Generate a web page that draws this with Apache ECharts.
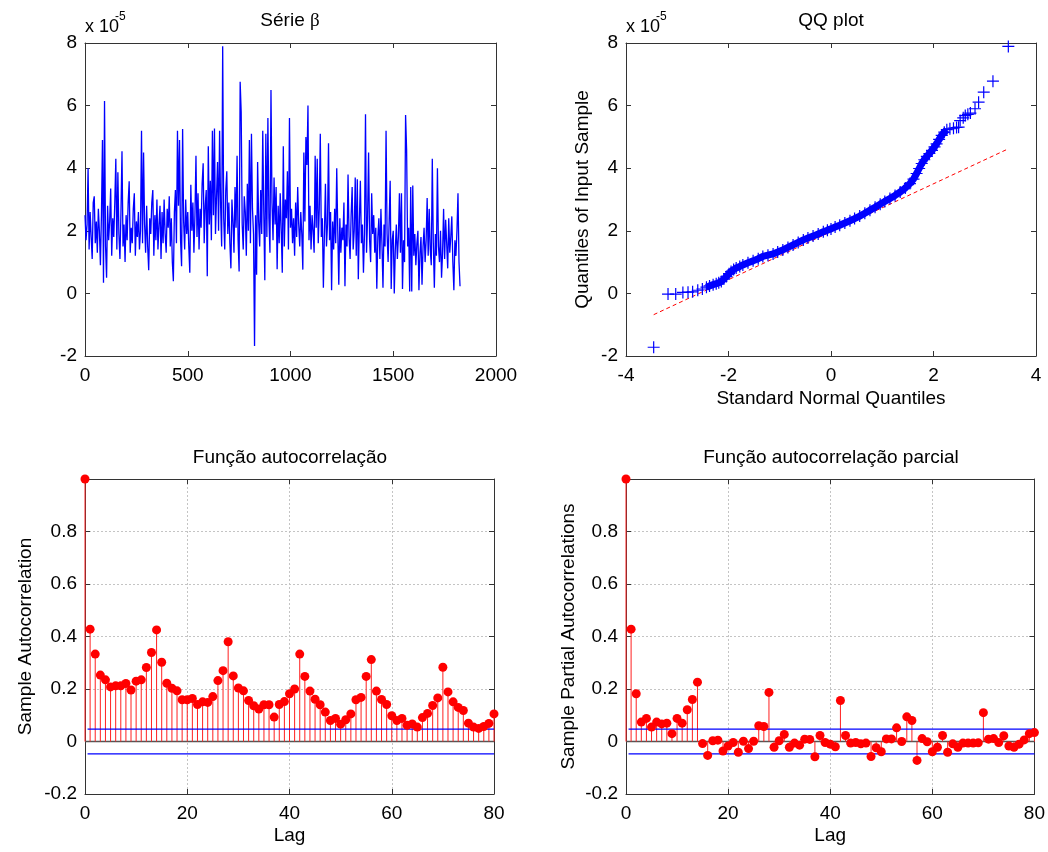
<!DOCTYPE html>
<html>
<head>
<meta charset="utf-8">
<script src="https://cdn.jsdelivr.net/npm/echarts@6.0.0/dist/echarts.min.js"></script>
<style>html,body{margin:0;padding:0;background:#fff}</style>
</head>
<body>
<div id="main" style="width:1048px;height:852px;"></div>
<script>
// série beta (unidades de 1e-5), uma amostra a cada 5 observações
const serieStep = 5;
const serieBeta = [
  2.5, 1.7, 2.2, 4.0, 1.4, 2.6, 1.8, 1.1, 2.9, 3.1,
  1.6, 2.3, 1.3, 2.7, 2.0, 0.9, 2.5, 4.9, 0.34, 6.15,
  1.5, 0.5, 2.8, 1.7, 2.3, 3.35, 1.2, 2.4, 1.8, 2.9,
  4.3, 1.4, 3.87, 1.9, 1.1, 2.6, 4.54, 1.5, 2.2, 1.0,
  2.5, 1.7, 2.9, 3.58, 1.3, 2.1, 1.6, 2.7, 3.2, 1.2,
  2.3, 1.8, 2.6, 1.4, 2.0, 5.2, 1.6, 4.5, 2.2, 1.3,
  2.8, 1.5, 0.74, 2.4, 1.9, 2.9, 3.3, 1.2, 2.5, 1.7,
  3.0, 1.4, 2.2, 2.8, 1.1, 2.6, 1.6, 3.0, 1.9, 1.3,
  2.7, 2.1, 3.1, 1.5, 2.4, 1.0, 0.39, 2.6, 3.3, 1.6,
  5.2, 2.8, 4.9, 1.7, 0.87, 5.25, 2.3, 1.4, 3.0, 1.9,
  2.6, 1.5, 0.66, 3.47, 2.0, 2.9, 1.3, 2.5, 4.4, 1.8,
  3.2, 1.4, 2.7, 2.1, 3.5, 4.16, 1.6, 2.8, 3.3, 0.55,
  4.7, 2.2, 3.6, 1.7, 5.2, 2.5, 5.27, 1.9, 3.1, 4.2,
  2.0, 5.2, 2.8, 1.5, 7.9, 2.4, 1.4, 3.3, 3.9, 1.9,
  2.9, 1.6, 0.8, 3.0, 2.3, 1.3, 3.4, 2.1, 4.4, 1.7,
  0.7, 6.76, 5.8, 2.2, 1.4, 3.1, 2.6, 1.2, 3.5, 2.0,
  4.9, 1.6, 5.1, 2.7, 1.9, -1.68, 2.5, 0.6, 4.2, 2.3,
  1.5, 3.3, 1.9, 5.2, 2.6, 0.42, 5.1, 1.8, 5.6, 2.4,
  1.3, 6.5, 2.9, 1.7, 3.7, 2.2, 3.4, 0.77, 2.8, 1.6,
  3.2, 2.0, 0.66, 4.7, 1.5, 3.0, 2.4, 3.9, 1.4, 5.6,
  2.1, 2.7, 1.6, 2.4, 1.2, 2.9, 1.8, 3.4, 2.2, 1.5,
  2.6, 1.9, 0.76, 4.5, 2.3, 5.0, 4.1, 6.0, 1.7, 2.8,
  1.4, 2.5, 2.0, 1.3, 4.4, 2.1, 4.3, 1.6, 2.7, 5.1,
  1.8, 2.4, 0.18, 1.9, 3.5, 1.5, 2.2, 4.8, 1.7, 2.6,
  0.1, 2.3, 1.4, 2.7, 1.6, 4.0, 2.0, 0.28, 2.4, 1.3,
  2.1, 1.7, 2.9, 0.23, 2.2, 1.5, 3.8, 1.8, 1.1, 2.5,
  3.4, 1.4, 2.0, 3.7, 1.2, 3.65, 0.45, 2.3, 3.6, 1.6,
  2.2, 0.66, 1.9, 5.72, 1.3, 2.4, 4.5, 1.7, 1.0, 3.2,
  1.9, 2.5, 1.3, 2.1, 0.15, 1.8, 2.4, 1.1, 2.7, 1.6,
  0.18, 2.2, 1.5, 5.2, 1.9, 1.0, 2.3, 3.6, 0.14, 1.7,
  2.0, 0.0, 1.4, 2.2, 1.1, 1.8, 3.2, 1.3, 3.2, 0.14,
  1.7, 1.0, 5.7, 4.6, 1.5, 2.1, 0.06, 3.4, 0.06, 3.45,
  1.2, 1.9, 0.9, 1.6, 2.0, 0.1, 1.3, 1.8, 0.28, 1.5,
  2.1, 1.0, 1.7, 3.05, 1.2, 2.7, 1.4, 0.9, 4.3, 1.6,
  0.18, 1.9, 1.2, 4.0, 1.5, 1.0, 2.0, 0.5, 1.3, 2.7,
  1.1, 2.35, 1.6, 0.8, 2.4, 1.3, 1.8, 2.46, 1.0, 0.1,
  1.7, 1.2, 2.0, 3.2, 1.0, 0.23
];

// QQ plot: quantis normais x quantis da amostra (1e-5)
const qqX = [
  -3.46, -3.18, -3.03, -2.89, -2.79, -2.70, -2.60, -2.51, -2.43, -2.37,
  -2.30, -2.24, -2.19, -2.14, -2.09, -2.04, -1.99, -1.95, -1.90, -1.85,
  -1.78, -1.72, -1.62, -1.52, -1.42, -1.33, -1.23, -1.13, -1.04, -0.94,
  -0.84, -0.74, -0.64, -0.54, -0.45, -0.35, -0.25, -0.15, -0.07, 0.00,
  0.08, 0.17, 0.27, 0.37, 0.46, 0.56, 0.66, 0.76, 0.86, 0.96,
  1.05, 1.15, 1.25, 1.35, 1.45, 1.54, 1.61, 1.67, 1.72, 1.77,
  1.82, 1.87, 1.92, 1.97, 2.02, 2.06, 2.11, 2.16, 2.21, 2.26,
  2.32, 2.39, 2.45, 2.49, 2.52, 2.58, 2.62, 2.67, 2.72, 2.81,
  2.88, 2.98, 3.16, 3.46
];
const qqY = [
  -1.72, -0.02, -0.02, 0.03, 0.04, 0.05, 0.10, 0.14, 0.20, 0.24,
  0.28, 0.31, 0.34, 0.38, 0.46, 0.54, 0.63, 0.70, 0.76, 0.81,
  0.86, 0.91, 0.98, 1.04, 1.11, 1.18, 1.22, 1.26, 1.32, 1.39,
  1.47, 1.55, 1.63, 1.71, 1.77, 1.83, 1.90, 1.97, 2.02, 2.06,
  2.12, 2.18, 2.25, 2.32, 2.39, 2.47, 2.56, 2.66, 2.75, 2.85,
  2.94, 3.03, 3.13, 3.24, 3.37, 3.51, 3.65, 3.83, 3.99, 4.15,
  4.27, 4.38, 4.47, 4.57, 4.68, 4.78, 4.92, 5.05, 5.15, 5.23,
  5.26, 5.28, 5.30, 5.31, 5.52, 5.61, 5.68, 5.72, 5.76, 5.90,
  6.11, 6.43, 6.78, 7.89
];
const qqRefX = [-3.46, 3.46];
const qqRefY = [-0.68, 4.62];

// autocorrelação e autocorrelação parcial, lags 0..80
const acf = [
  1.0, 0.428, 0.333, 0.253, 0.235, 0.208, 0.212, 0.212, 0.221, 0.196,
  0.230, 0.235, 0.282, 0.339, 0.425, 0.302, 0.222, 0.203, 0.193, 0.159,
  0.159, 0.164, 0.141, 0.151, 0.149, 0.171, 0.232, 0.270, 0.380, 0.250,
  0.204, 0.193, 0.156, 0.136, 0.124, 0.140, 0.140, 0.093, 0.141, 0.152,
  0.182, 0.200, 0.333, 0.248, 0.192, 0.161, 0.140, 0.112, 0.080, 0.088,
  0.066, 0.083, 0.105, 0.159, 0.168, 0.248, 0.312, 0.192, 0.160, 0.141,
  0.098, 0.080, 0.088, 0.062, 0.067, 0.055, 0.091, 0.107, 0.137, 0.166,
  0.283, 0.189, 0.151, 0.130, 0.118, 0.070, 0.055, 0.050, 0.057, 0.069,
  0.105
];
const pacf = [
  1.0, 0.428, 0.182, 0.074, 0.088, 0.055, 0.074, 0.067, 0.070, 0.030,
  0.088, 0.070, 0.121, 0.160, 0.226, -0.008, -0.053, 0.003, 0.005, -0.036,
  -0.017, -0.004, -0.041, 0.001, -0.027, 0.001, 0.060, 0.057, 0.187, -0.022,
  0.003, 0.027, -0.022, -0.006, -0.014, 0.009, 0.008, -0.058, 0.023, -0.004,
  -0.010, -0.020, 0.156, 0.023, -0.006, -0.004, -0.009, -0.006, -0.057, -0.024,
  -0.039, 0.010, 0.010, 0.052, 0.000, 0.094, 0.080, -0.072, 0.011, -0.001,
  -0.039, -0.022, 0.023, -0.041, -0.009, -0.022, -0.006, -0.006, -0.006, -0.005,
  0.110, 0.009, 0.011, -0.004, 0.022, -0.017, -0.022, -0.010, 0.006, 0.030,
  0.034
];
const confBound = 0.047;
const boundLags = [0.5, 80];

const font = '"Liberation Sans", Arial, sans-serif';
const axisColor = '#333';
const fs = 19;

const chart = echarts.init(document.getElementById('main'));

function xAx(grid, min, max, interval, opt) {
  opt = opt || {};
  const base = {
    type: 'value', gridIndex: grid, min: min, max: max, interval: interval,
    axisLine: { show: true, onZero: false, lineStyle: { color: axisColor } },
    axisTick: { show: true, inside: true, length: 5, lineStyle: { color: axisColor } },
    splitLine: { show: !!opt.grid, lineStyle: { color: '#c4c4c4', type: [2, 2] } }
  };
  return [
    Object.assign({}, base, {
      position: 'bottom',
      axisLabel: { show: true, margin: 10, color: '#000', fontSize: fs, fontFamily: font,
        formatter: function (v) { return String(v); } },
      name: opt.name || '', nameLocation: 'middle', nameGap: opt.nameGap || 30,
      nameTextStyle: { color: '#000', fontSize: fs, fontFamily: font }
    }),
    Object.assign({}, base, { position: 'top', axisLabel: { show: false }, splitLine: { show: false } })
  ];
}
function yAx(grid, min, max, interval, opt) {
  opt = opt || {};
  const base = {
    type: 'value', gridIndex: grid, min: min, max: max, interval: interval,
    axisLine: { show: true, onZero: false, lineStyle: { color: axisColor } },
    axisTick: { show: true, inside: true, length: 5, lineStyle: { color: axisColor } },
    splitLine: { show: !!opt.grid, lineStyle: { color: '#c4c4c4', type: [2, 2] } }
  };
  return [
    Object.assign({}, base, {
      position: 'left',
      axisLabel: {
        show: true, margin: 8, color: '#000', fontSize: fs, fontFamily: font,
        formatter: opt.fmt || function (v) { return String(v); }
      },
      name: opt.name || '', nameLocation: 'middle', nameGap: opt.nameGap || 40,
      nameTextStyle: { color: '#000', fontSize: fs, fontFamily: font }
    }),
    Object.assign({}, base, { position: 'right', axisLabel: { show: false }, splitLine: { show: false } })
  ];
}

const hideOne = function (v) { return v >= 0.999 ? '' : String(Math.round(v * 10) / 10); };

const serieData = serieBeta.map((v, i) => [i * serieStep, v]);
const qqPts = qqX.map((x, i) => [x, qqY[i]]);
const qqBand = qqPts.filter(p => p[0] >= -2.45 && p[0] <= 2.3);
const acfData = acf.map((v, i) => [i, v]);
const pacfData = pacf.map((v, i) => [i, v]);
const plusPath = 'path://M4.5,0h1v4.5h4.5v1h-4.5v4.5h-1v-4.5h-4.5v-1h4.5z';

function stemSeries(ax, data) {
  return [
    {
      type: 'line', xAxisIndex: ax, yAxisIndex: ax, silent: true, symbol: 'none',
      data: [[0, 0], [80, 0]], lineStyle: { color: '#555', width: 1.5 }, z: 2
    },
    {
      type: 'bar', xAxisIndex: ax, yAxisIndex: ax, barWidth: 1, data: data,
      itemStyle: { color: '#ff2020' }, z: 3
    },
    {
      type: 'line', xAxisIndex: ax, yAxisIndex: ax, symbol: 'none',
      data: boundLags.map(l => [l, confBound]), lineStyle: { color: '#0000ff', width: 1.2 }, z: 4
    },
    {
      type: 'line', xAxisIndex: ax, yAxisIndex: ax, symbol: 'none',
      data: boundLags.map(l => [l, -confBound]), lineStyle: { color: '#0000ff', width: 1.2 }, z: 4
    },
    {
      type: 'scatter', xAxisIndex: ax, yAxisIndex: ax, data: data, clip: false,
      symbol: 'circle', symbolSize: 9, itemStyle: { color: '#ff0000', opacity: 1 }, z: 5
    }
  ];
}

const option = {
  animation: false,
  backgroundColor: '#fff',
  grid: [
    { left: 85, top: 43, width: 411, height: 313 },
    { left: 626, top: 43, width: 410, height: 313 },
    { left: 85, top: 479, width: 409, height: 315 },
    { left: 626, top: 479, width: 409, height: 315 }
  ],
  xAxis: [].concat(
    xAx(0, 0, 2000, 500),
    xAx(1, -4, 4, 2, { name: 'Standard Normal Quantiles', nameGap: 33 }),
    xAx(2, 0, 80, 20, { grid: true, name: 'Lag', nameGap: 32 }),
    xAx(3, 0, 80, 20, { grid: true, name: 'Lag', nameGap: 32 })
  ),
  yAxis: [].concat(
    yAx(0, -2, 8, 2),
    yAx(1, -2, 8, 2, { name: 'Quantiles of Input Sample', nameGap: 34 }),
    yAx(2, -0.2, 1, 0.2, { grid: true, fmt: hideOne, name: 'Sample Autocorrelation', nameGap: 50 }),
    yAx(3, -0.2, 1, 0.2, { grid: true, fmt: hideOne, name: 'Sample Partial Autocorrelations', nameGap: 48 })
  ),
  graphic: [
    { type: 'text', x: 290, y: 21, style: { text: '{a|Série }{b|β}', textAlign: 'center', textVerticalAlign: 'middle',
        rich: { a: { fontSize: fs, fontFamily: font, color: '#000' }, b: { fontSize: fs, fontFamily: '"Liberation Serif", serif', color: '#000' } } } },
    { type: 'text', x: 831, y: 21, style: { text: 'QQ plot', textAlign: 'center', textVerticalAlign: 'middle', font: fs + 'px ' + font, fill: '#000' } },
    { type: 'text', x: 290, y: 458, style: { text: 'Função autocorrelação', textAlign: 'center', textVerticalAlign: 'middle', font: fs + 'px ' + font, fill: '#000' } },
    { type: 'text', x: 831, y: 458, style: { text: 'Função autocorrelação parcial', textAlign: 'center', textVerticalAlign: 'middle', font: fs + 'px ' + font, fill: '#000' } },
    { type: 'text', x: 85, y: 27, style: { text: 'x 10', textVerticalAlign: 'middle', font: '18px ' + font, fill: '#000' } },
    { type: 'text', x: 115, y: 17, style: { text: '-5', textVerticalAlign: 'middle', font: '12px ' + font, fill: '#000' } },
    { type: 'text', x: 626, y: 27, style: { text: 'x 10', textVerticalAlign: 'middle', font: '18px ' + font, fill: '#000' } },
    { type: 'text', x: 656, y: 17, style: { text: '-5', textVerticalAlign: 'middle', font: '12px ' + font, fill: '#000' } }
  ],
  series: [
    {
      type: 'line', xAxisIndex: 0, yAxisIndex: 0, data: serieData, symbol: 'none',
      lineStyle: { color: '#0000ff', width: 1.3 }
    },
    {
      type: 'line', xAxisIndex: 2, yAxisIndex: 2, symbol: 'none',
      data: qqRefX.map((x, i) => [x, qqRefY[i]]),
      lineStyle: { color: '#ff0000', width: 1, type: [4, 3] }, z: 1
    },
    {
      type: 'line', xAxisIndex: 2, yAxisIndex: 2, symbol: 'none', data: qqBand,
      lineStyle: { color: '#0000ff', width: 7 }, z: 2
    },
    {
      type: 'scatter', xAxisIndex: 2, yAxisIndex: 2, data: qqPts, symbol: plusPath, symbolSize: 12,
      itemStyle: { color: '#0000ff', opacity: 1 }, z: 3
    }
  ].concat(stemSeries(4, acfData), stemSeries(6, pacfData))
};

chart.setOption(option);
</script>
</body>
</html>
